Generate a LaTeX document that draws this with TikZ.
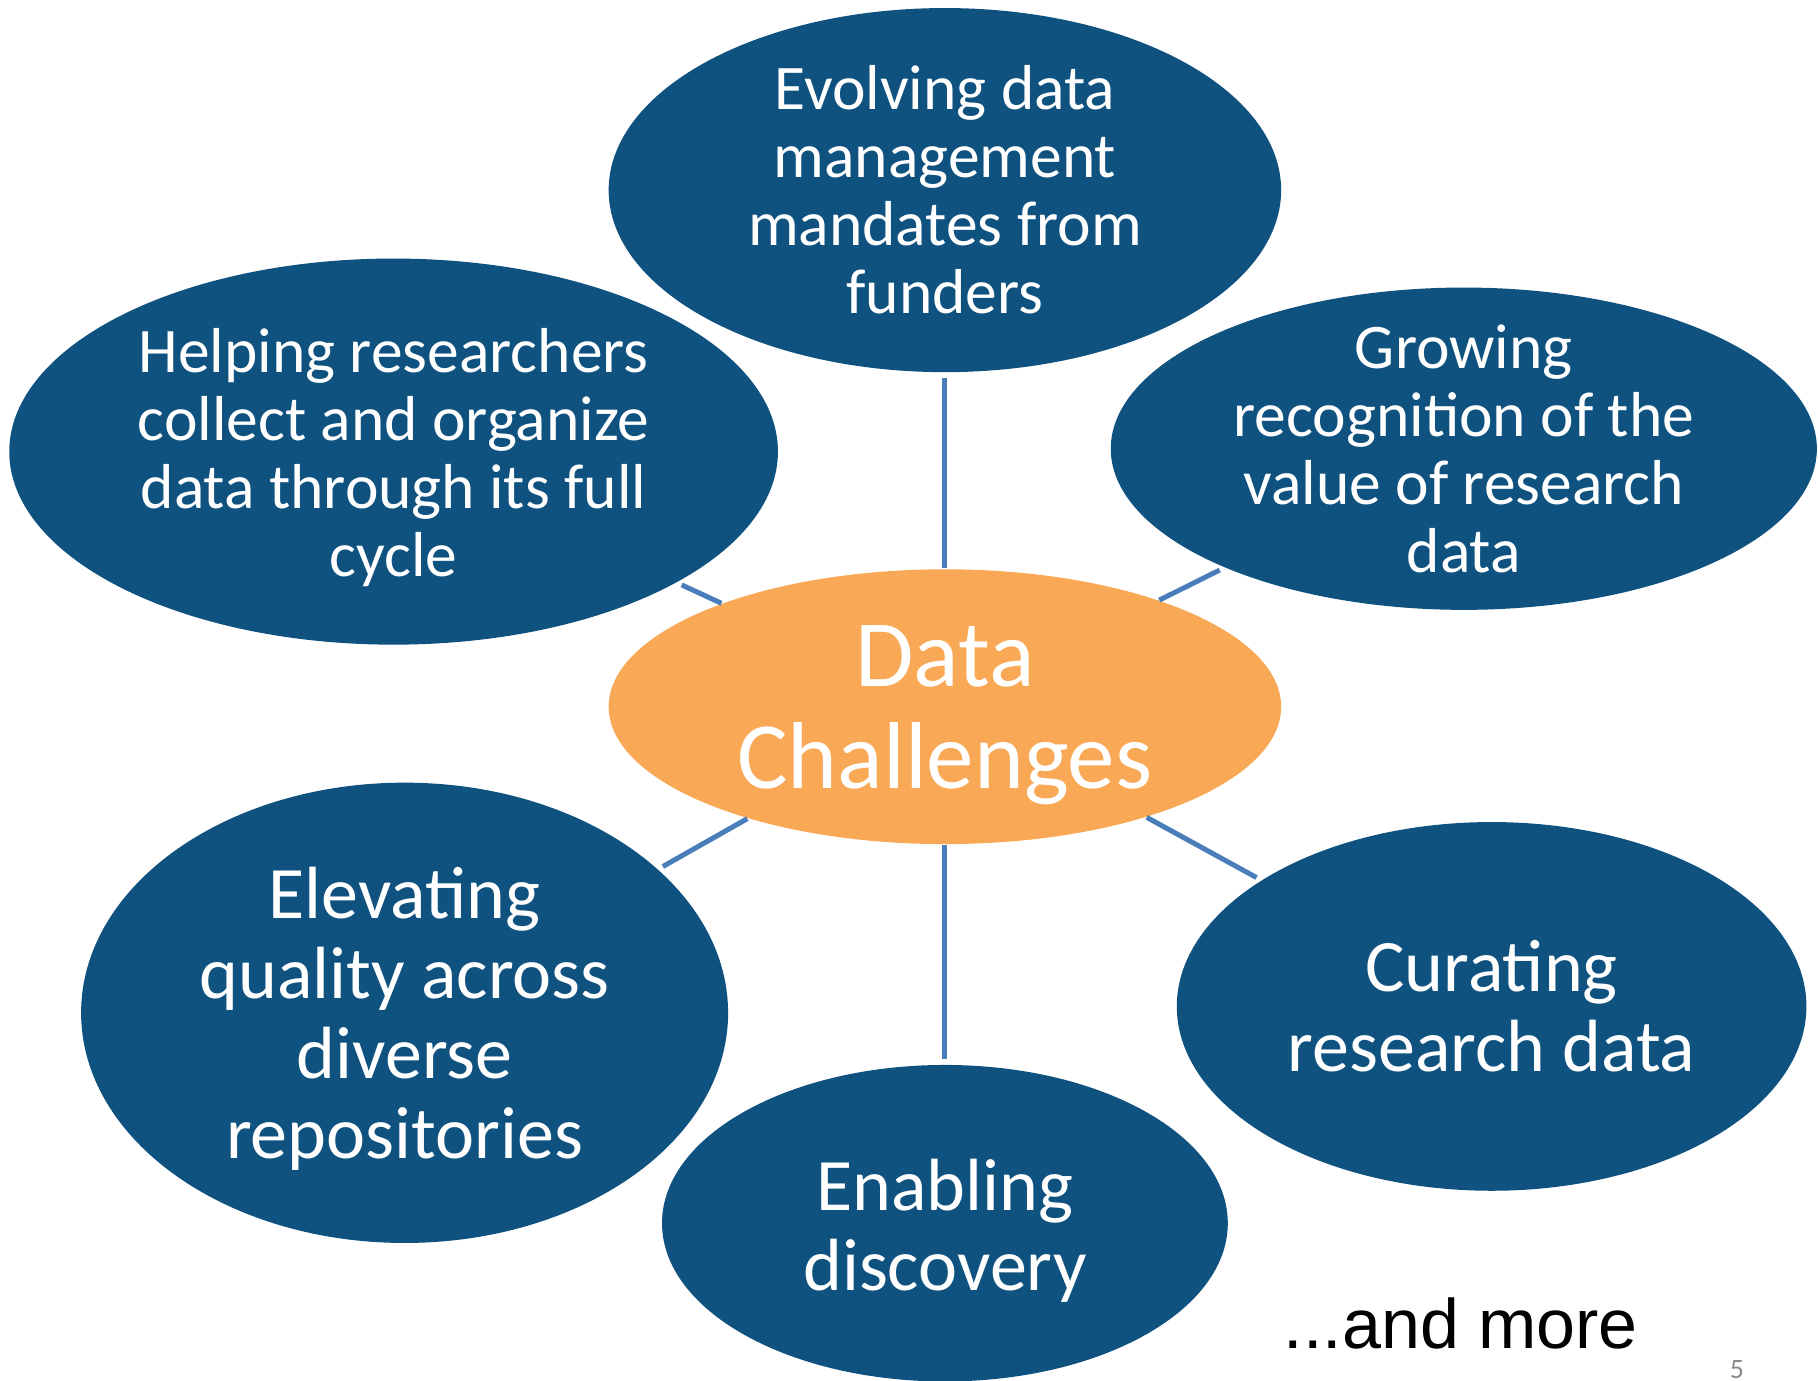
\documentclass[tikz,border=0pt]{standalone}
\usepackage{fontspec}
\setmainfont{Carlito}
\newfontfamily\arialfont{Liberation Sans}
\usetikzlibrary{shapes.geometric}
\definecolor{bubble}{RGB}{15,82,128}
\definecolor{hub}{RGB}{249,168,86}
\definecolor{spoke}{RGB}{74,126,187}
\definecolor{pagegray}{RGB}{137,137,137}
\tikzset{
  blob/.style={ellipse, fill=bubble, draw=none, inner sep=0pt, outer sep=0pt},
  hubblob/.style={ellipse, fill=hub, draw=none, inner sep=0pt, outer sep=0pt},
  smalltxt/.style={text=white, align=center, inner sep=0pt, font=\fontsize{63.5}{68}\selectfont},
  bigtxt/.style={text=white, align=center, inner sep=0pt, font=\fontsize{74}{80}\selectfont},
  hubtxt/.style={text=white, align=center, inner sep=0pt, font=\fontsize{95}{102}\selectfont},
  link/.style={draw=spoke, line width=5pt, shorten <=1pt, shorten >=6pt}
}
\begin{document}
\begin{tikzpicture}[x=1pt,y=-1pt]
\useasboundingbox[fill=white] (0,0) rectangle (1818,1381);
% ellipses
\node[hubblob, minimum width=672.5pt, minimum height=274.8pt] (hub) at (944.9,706.7) {};
\node[blob, minimum width=672.5pt, minimum height=364.1pt] (top) at (944.9,190.1) {};
\node[blob, minimum width=768.7pt, minimum height=386.1pt] (lt) at (393.6,451.6) {};
\node[blob, minimum width=706.1pt, minimum height=322.3pt] (rt) at (1463.8,448.7) {};
\node[blob, minimum width=647pt, minimum height=460.3pt] (lb) at (404.6,1012.8) {};
\node[blob, minimum width=629.6pt, minimum height=368.7pt] (rb) at (1491.6,1006.4) {};
\node[blob, minimum width=565.8pt, minimum height=316.5pt] (bot) at (944.9,1223.2) {};
% connectors
\draw[link] (hub) -- (top);
\draw[link] (hub) -- (lt);
\draw[link] (hub) -- (rt);
\draw[link] (hub) -- (lb);
\draw[link] (hub) -- (rb);
\draw[link] (hub) -- (bot);
% texts
\node[hubtxt] (hubt) at ([yshift=-8pt]hub.center) {Data\\Challenges};
\node[smalltxt] (topt) at (top.center) {Evolving data\\management\\mandates from\\funders};
\node[smalltxt] (ltt) at ([yshift=-6pt]lt.center) {Helping researchers\\collect and organize\\data through its full\\cycle};
\node[smalltxt] (rtt) at (rt.center) {Growing\\recognition of the\\value of research\\data};
\node[bigtxt] (lbt) at ([yshift=-6pt]lb.center) {Elevating\\quality across\\diverse\\repositories};
\node[bigtxt] (rbt) at (rb.center) {Curating\\research data};
\node[bigtxt] (bott) at ([yshift=-8pt]bot.center) {Enabling\\discovery};
\node[anchor=base, inner sep=0pt, font=\arialfont\fontsize{70}{70}\selectfont] (more) at (1460.9,1348.4) {...and more};
\node[anchor=base, inner sep=0pt, text=pagegray, font=\fontsize{28}{28}\selectfont] (page) at (1737,1378) {5};
\end{tikzpicture}
\end{document}
